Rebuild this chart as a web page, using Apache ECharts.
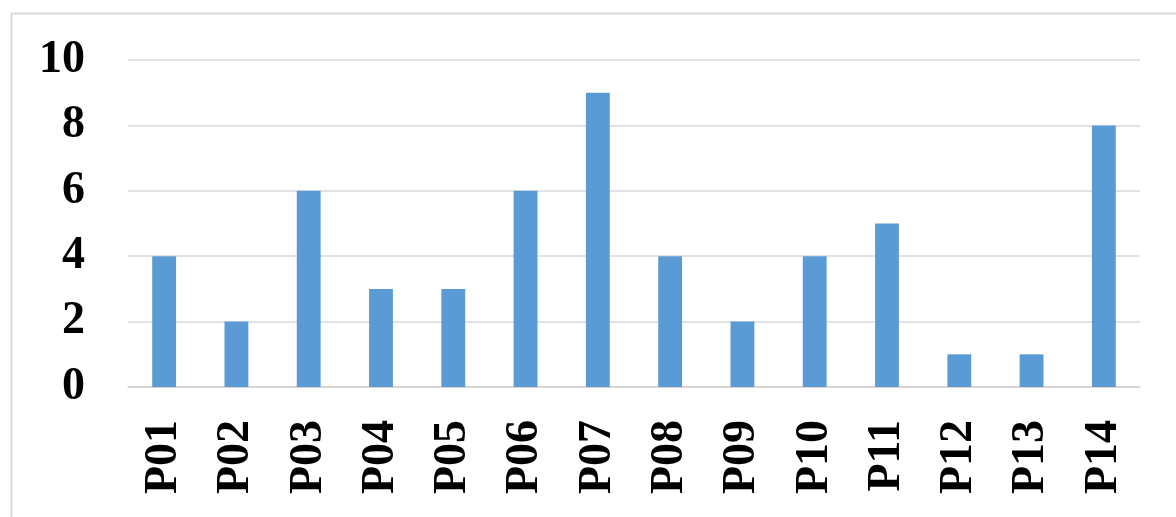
<!DOCTYPE html>
<html>
<head>
<meta charset="utf-8">
<script src="https://cdn.jsdelivr.net/npm/echarts@6/dist/echarts.min.js"></script>
<style>html,body{margin:0;padding:0;background:#fff;}#c{width:1176px;height:517px;}</style>
</head>
<body>
<div id="c"></div>
<script>
var categories = ['P01','P02','P03','P04','P05','P06','P07','P08','P09','P10','P11','P12','P13','P14'];
var values = [4, 2, 6, 3, 3, 6, 9, 4, 2, 4, 5, 1, 1, 8];
var yTicks = [0, 2, 4, 6, 8, 10];

var chart = echarts.init(document.getElementById('c'));
var font = '"Liberation Serif", "Times New Roman", serif';
chart.setOption({
  animation: false,
  graphic: [{
    type: 'rect', left: 9, top: 11,
    shape: {width: 1200, height: 540},
    style: {fill: 'none', stroke: '#d9d9d9', lineWidth: 2},
    silent: true
  }],
  grid: {left: 128, right: 36, top: 60, bottom: 130, containLabel: false},
  xAxis: {
    type: 'category',
    data: categories,
    axisLine: {lineStyle: {color: '#d9d2cb', width: 1.5}},
    axisTick: {show: false},
    axisLabel: {rotate: 90, margin: 33, color: '#000', fontFamily: font, fontWeight: 'bold', fontSize: 46}
  },
  yAxis: {
    type: 'value',
    min: yTicks[0], max: yTicks[yTicks.length - 1], interval: 2,
    axisLine: {show: false},
    axisTick: {show: false},
    splitLine: {lineStyle: {color: '#d9d9d9', width: 1.5}},
    axisLabel: {margin: 43, color: '#000', fontFamily: font, fontWeight: 'bold', fontSize: 46}
  },
  series: [{
    type: 'bar',
    data: values,
    barWidth: '33%',
    itemStyle: {color: '#5b9bd5'}
  }]
});
</script>
</body>
</html>
